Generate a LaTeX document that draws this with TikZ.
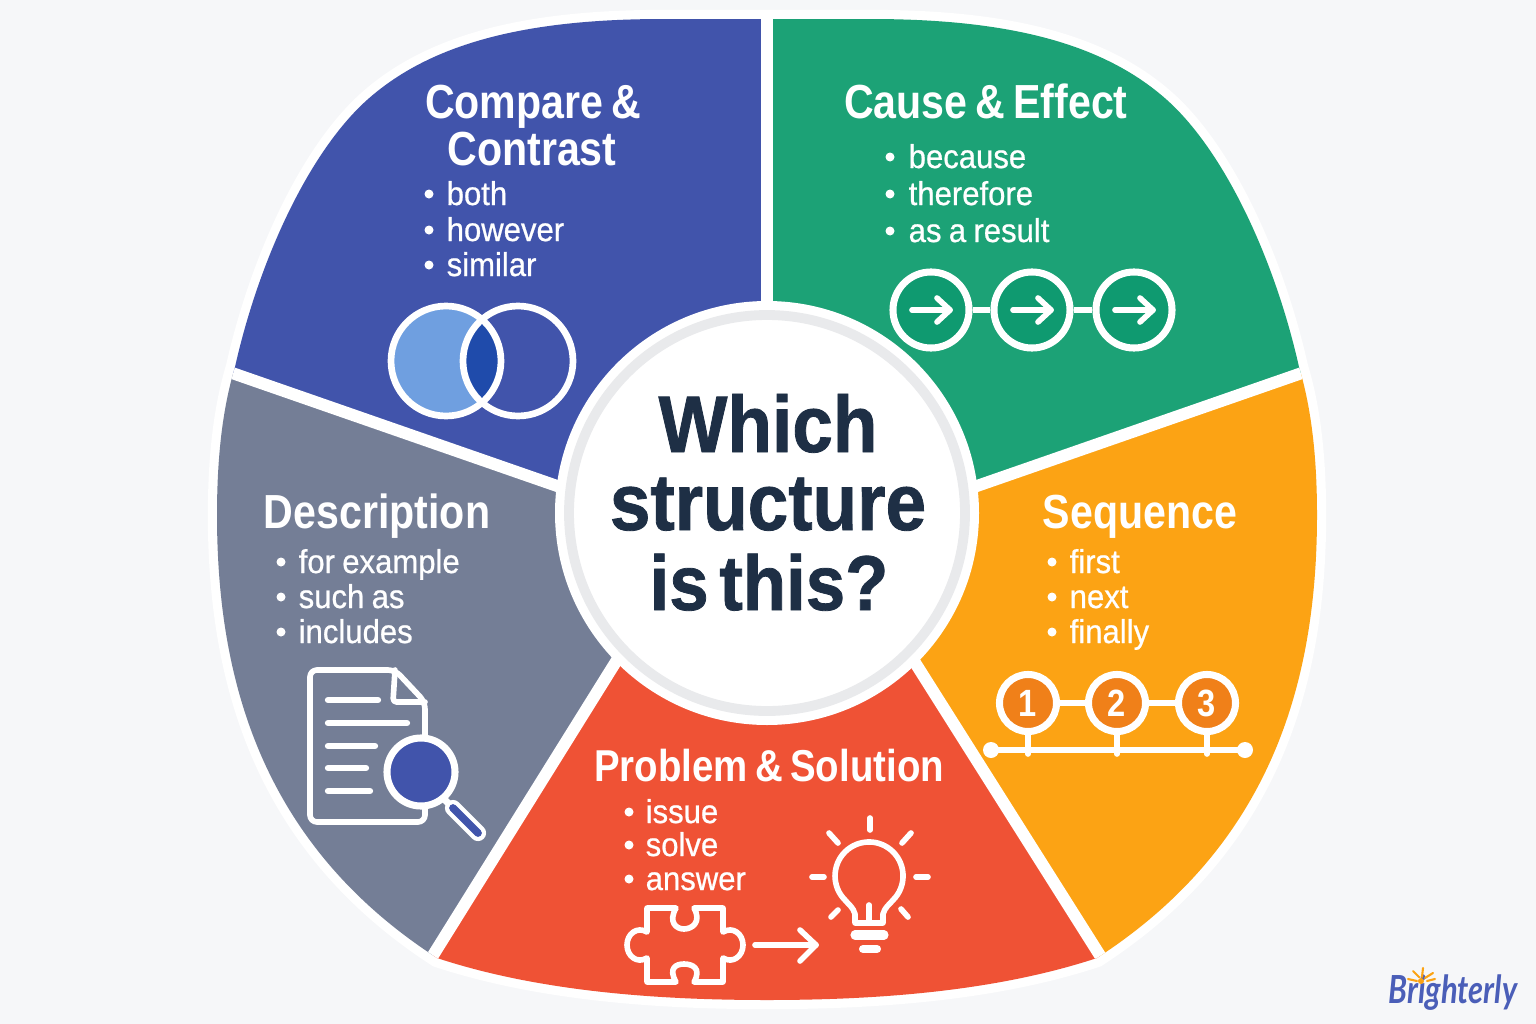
\documentclass[tikz,border=0pt]{standalone}
\usepackage{fontspec}
\usetikzlibrary{calc}
\newfontfamily\headfont[FakeStretch=0.86,WordSpace=0.7]{Liberation Sans}
\newfontfamily\itemfont[FakeStretch=0.94,FakeBold=0.7,WordSpace=0.85]{Liberation Sans}
\newfontfamily\bigfont[FakeStretch=0.91,FakeBold=1,WordSpace=0.55]{Liberation Sans}
\newfontfamily\logofont[FakeStretch=0.8]{Lato}
\definecolor{pagebg}{HTML}{F6F7F9}
\definecolor{cmpblue}{HTML}{4154AB}
\definecolor{causegreen}{HTML}{1CA276}
\definecolor{seqorange}{HTML}{FCA314}
\definecolor{probred}{HTML}{EF5235}
\definecolor{descgray}{HTML}{747E96}
\definecolor{inkdark}{HTML}{1E2F45}
\definecolor{ringgray}{HTML}{E9EAEC}
\definecolor{vennlight}{HTML}{6F9FE0}
\definecolor{venndark}{HTML}{1F4BAB}
\definecolor{arrowgreen}{HTML}{0F9A70}
\definecolor{numorange}{HTML}{F08019}
\definecolor{logoblue}{HTML}{4A5EB8}
\tikzset{
    headtext/.style={text=white, inner sep=0pt, anchor=base, font=\headfont\bfseries\fontsize{13.6}{15}\selectfont},
    itemtext/.style={text=white, inner sep=0pt, anchor=base west, font=\itemfont\fontsize{9.4}{11}\selectfont},
    bigtext/.style={text=inkdark, inner sep=0pt, anchor=base, font=\bigfont\bfseries\fontsize{22.8}{25}\selectfont},
    iconline/.style={draw=white, line width=1.6pt, line cap=round, line join=round},
    arrowcirc/.style={circle, draw=white, fill=arrowgreen, line width=2pt, minimum size=0.76cm, inner sep=0pt},
    numcirc/.style={circle, draw=white, fill=numorange, line width=2pt, minimum size=0.57cm, inner sep=0pt,
        text=white, font=\headfont\bfseries\fontsize{10.8}{12}\selectfont},
}
\newcommand{\blobpath}{(767,19) -- (664,19) .. controls (534,19) and (434,40) .. (367,100)
    .. controls (309,152) and (259,260) .. (235,367)
    .. controls (222,410) and (217,460) .. (217,515) .. controls (217,680) and (262,840) .. (428,952)
    -- (437,958) .. controls (540,992) and (660,1000) .. (767,1000) .. controls (874,1000) and (994,992) .. (1097,958)
    -- (1106,952) .. controls (1272,840) and (1317,680) .. (1317,515) .. controls (1317,460) and (1312,410) .. (1299,367)
    .. controls (1275,260) and (1225,152) .. (1167,100) .. controls (1100,40) and (1000,19) .. (870,19) -- cycle}
\begin{document}
\begin{tikzpicture}[x=0.01cm, y=-0.01cm]
    \fill[pagebg] (0,0) rectangle (1536,1024);
    \useasboundingbox (0,0) rectangle (1536,1024);

    % wedges
    \draw[white, line width=5.2pt] \blobpath;
    \begin{scope}
        \clip \blobpath;
        \fill[cmpblue] (0,0) -- (767,0) -- (767,513) -- (560,487) -- (212,366) -- (0,300) -- cycle;
        \fill[causegreen] (1536,0) -- (767,0) -- (767,513) -- (974,487) -- (1322,366) -- (1536,300) -- cycle;
        \fill[descgray] (0,300) -- (212,366) -- (560,487) -- (767,513) -- (617,660) -- (427,965) -- (0,1024) -- cycle;
        \fill[seqorange] (1536,300) -- (1322,366) -- (974,487) -- (767,513) -- (914,661) -- (1106,965) -- (1536,1024) -- cycle;
        \fill[probred] (767,513) -- (617,660) -- (427,965) -- (427,1024) -- (1106,1024) -- (1106,965) -- (914,661) -- cycle;
        \draw[white, line width=3.4pt] (767,0) -- (767,513);
        \draw[white, line width=3.4pt] (212,366) -- (560,487);
        \draw[white, line width=3.4pt] (1322,366) -- (974,487);
        \draw[white, line width=3.4pt] (427,965) -- (617,660);
        \draw[white, line width=3.4pt] (1106,965) -- (914,661);
    \end{scope}

    % centre
    \fill[white] (767,513) circle (212);
    \draw[ringgray, line width=2.8pt] (767,513) circle (198);
    \node[bigtext] (which) at (768,452) {Which};
    \node[bigtext] (structure) at (768,530) {structure};
    \node[bigtext, font=\bigfont\bfseries\fontsize{22.1}{25}\selectfont] (isthis) at (769,610) {is this?};

    % headings
    \node[headtext] (cmpa) at (533,118) {Compare \&};
    \node[headtext] (cmpb) at (532,165) {Contrast};
    \node[headtext] (cause) at (986,118) {Cause \& Effect};
    \node[headtext] (desc) at (377,528) {Description};
    \node[headtext] (seq) at (1140,528) {Sequence};
    \node[headtext, font=\headfont\bfseries\fontsize{12.7}{15}\selectfont] (prob) at (769,781) {Problem \& Solution};

    % word lists
    \foreach \i/\y/\word in {1/205/both, 2/241/however, 3/276/similar} {
        \node[itemtext] (cmpw\i) at (446,\y) {\word};
        \fill[white] (429,\y-11) circle (4.5);
    }
    \foreach \i/\y/\word in {1/168/because, 2/205/therefore, 3/242/as a result} {
        \node[itemtext] (causew\i) at (908,\y) {\word};
        \fill[white] (890,\y-11) circle (4.5);
    }
    \foreach \i/\y/\word in {1/573/for example, 2/608/such as, 3/643/includes} {
        \node[itemtext] (descw\i) at (298,\y) {\word};
        \fill[white] (281,\y-11) circle (4.5);
    }
    \foreach \i/\y/\word in {1/573/first, 2/608/next, 3/643/finally} {
        \node[itemtext] (seqw\i) at (1069,\y) {\word};
        \fill[white] (1052,\y-11) circle (4.5);
    }
    \foreach \i/\y/\word in {1/823/issue, 2/856/solve, 3/890/answer} {
        \node[itemtext] (probw\i) at (645,\y) {\word};
        \fill[white] (629,\y-11) circle (4.5);
    }

    % venn
    \fill[vennlight] (446,361) circle (55);
    \begin{scope}
        \clip (446,361) circle (55);
        \fill[venndark] (518,361) circle (55);
    \end{scope}
    \draw[white, line width=1.9pt] (446,361) circle (55);
    \draw[white, line width=1.9pt] (518,361) circle (55);

    % arrow chain
    \foreach \i/\x in {1/931, 2/1032, 3/1134} {
        \node[arrowcirc] (ce\i) at (\x,310) {};
        \draw[iconline] (\x-19,310) -- (\x+19,310);
        \draw[iconline] (\x+6,298) -- (\x+19,310) -- (\x+6,322);
    }
    \draw[white, line width=1.6pt] (ce1) -- (ce2);
    \draw[white, line width=1.6pt] (ce2) -- (ce3);

    % document and lens
    \draw[iconline, rounded corners=2pt] (425,740) -- (425,702) -- (395,670) -- (310,670) -- (310,822) -- (425,822) -- (425,800);
    \draw[iconline, rounded corners=1pt] (395,670) -- (393,702) -- (425,702);
    \foreach \y/\xend in {700/378, 723/407, 746/375, 768/366, 791/370} {
        \draw[iconline, line width=1.8pt] (328,\y) -- (\xend,\y);
    }
    \draw[white, line width=2pt] (445,800) -- (455,810);
    \draw[white, line width=4.6pt, line cap=round] (453,808) -- (478,833);
    \draw[cmpblue, line width=2.2pt, line cap=round] (453,808) -- (478,833);
    \node[circle, draw=white, fill=cmpblue, line width=2pt, minimum size=0.68cm, inner sep=0pt] (lens) at (421,772) {};

    % timeline
    \foreach \i/\x in {1/1028, 2/1117, 3/1207} {
        \node[numcirc] (num\i) at (\x,703) {\i};
        \draw[iconline] (num\i.south) -- (\x,754);
    }
    \draw[white, line width=1.6pt] (num1) -- (num2);
    \draw[white, line width=1.6pt] (num2) -- (num3);
    \coordinate (tla) at (991,750);
    \coordinate (tlb) at (1245,750);
    \draw[white, line width=1.6pt] (tla) -- (tlb);
    \fill[white] (tla) circle (8);
    \fill[white] (tlb) circle (8);

    % puzzle piece
    \draw[iconline] (647,908) -- (676,908)
        .. controls (668,922) and (676,929) .. (684,929) .. controls (692,929) and (702,922) .. (694,908)
        -- (723,908) -- (723,932) .. controls (733,926) and (743,934) .. (743,945) .. controls (743,956) and (733,964) .. (723,958)
        -- (723,982) -- (694,982) .. controls (702,968) and (692,964) .. (684,964) .. controls (676,964) and (668,968) .. (676,982)
        -- (647,982) -- (647,958) .. controls (637,964) and (627,956) .. (627,945) .. controls (627,934) and (637,926) .. (647,932) -- cycle;
    \draw[iconline] (755,945) -- (816,945);
    \draw[iconline] (800,930) -- (816,945) -- (800,961);

    % bulb
    \draw[iconline] (855,923) -- (855,914) .. controls (853,907) and (849,905) .. (845,900)
        arc[start angle=135, end angle=405, radius=34]
        .. controls (889,905) and (885,907) .. (883,914) -- (883,923) -- cycle;
    \draw[iconline] (869,905) -- (869,923);
    \draw[white, line width=2.6pt, line cap=round] (855,935) -- (884,935);
    \draw[white, line width=2.3pt, line cap=round] (863,949) -- (877,949);
    \foreach \xa/\ya/\xb/\yb in {870/818/870/830, 829/833/838/843, 911/833/902/843, 812/877/824/877,
        916/877/928/877, 831/917/838/910, 908/917/901/909} {
        \draw[iconline] (\xa,\ya) -- (\xb,\yb);
    }

    % logo
    \node[inner sep=0pt, anchor=base, text=logoblue, font=\logofont\bfseries\itshape\fontsize{11}{13}\selectfont] (logo) at (1453,1003) {Brighterly};
    \fill[seqorange] (1421,981) circle (3);
    \foreach \xa/\ya/\xb/\yb in {1413/971/1419/977, 1423/968/1422/977, 1433/973/1425/978, 1435/979/1427/981, 1408/979/1417/981} {
        \draw[seqorange, line width=0.6pt, line cap=round] (\xa,\ya) -- (\xb,\yb);
    }
\end{tikzpicture}
\end{document}
